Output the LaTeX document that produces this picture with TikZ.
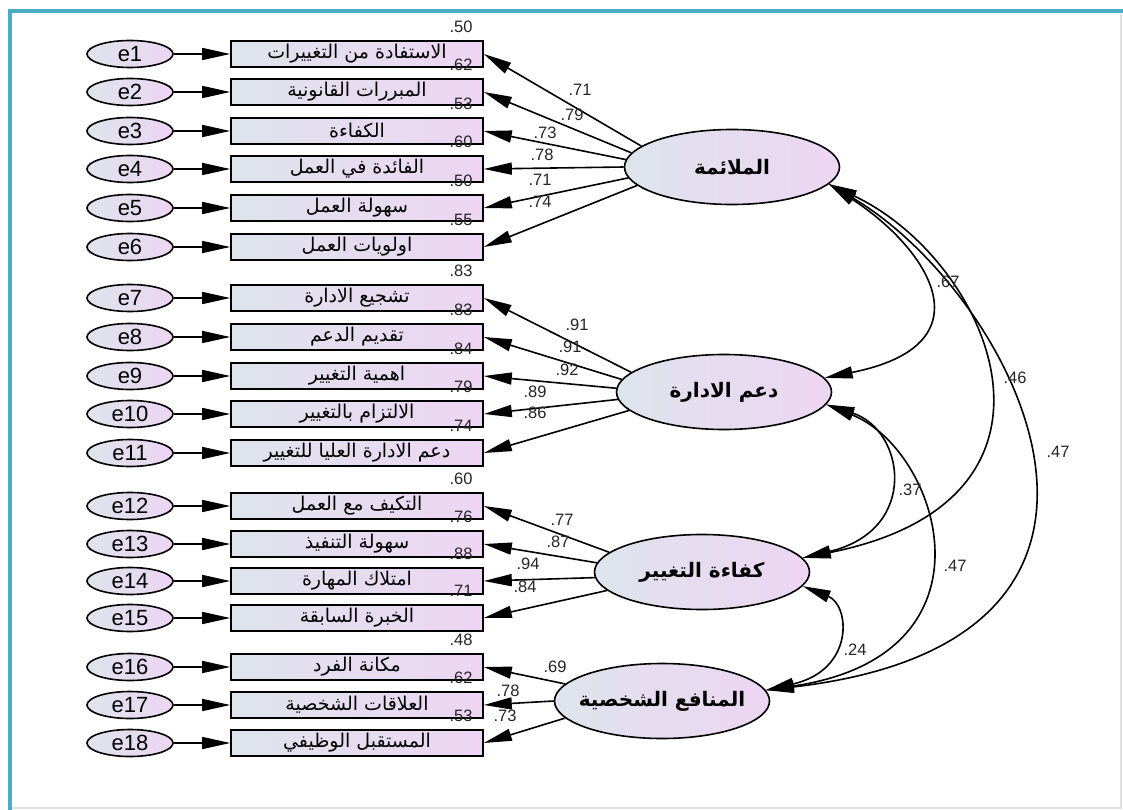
\documentclass[tikz,border=0pt]{standalone}
\usepackage{fontspec}
\setmainfont{Liberation Sans}
\newfontfamily\arabicfont[Script=Arabic]{DejaVu Sans}
\TeXXeTstate=1
\usetikzlibrary{shapes.geometric,arrows.meta}
\definecolor{amosleft}{RGB}{222,228,236}
\definecolor{amosright}{RGB}{237,213,243}
\definecolor{frameteal}{RGB}{75,172,198}
\newcommand{\artxt}[1]{{\arabicfont\beginR #1\endR}}
\tikzstyle{obs}=[rectangle, draw, line width=1.6pt, left color=amosleft, right color=amosright, minimum width=252pt, minimum height=26pt, inner sep=0pt, font=\fontsize{19}{19}\selectfont]
\tikzstyle{err}=[ellipse, draw, line width=1.6pt, left color=amosleft, right color=amosright, minimum width=86pt, minimum height=27pt, inner sep=0pt, font=\fontsize{22}{22}\selectfont]
\tikzstyle{lat}=[ellipse, draw, line width=1.6pt, left color=amosleft, right color=amosright, minimum width=215pt, minimum height=75pt, inner xsep=-30pt, inner ysep=0pt, font=\fontsize{20}{20}\selectfont\bfseries]
\tikzstyle{num}=[inner sep=0pt, text=black!85, font=\fontsize{16.5}{16.5}\selectfont]

\begin{document}
\begin{tikzpicture}[x=1pt, y=-1pt]
  \tikzstyle{arr}=[line width=1.6pt, -{Triangle[length=28pt,width=12pt]}];
  \tikzstyle{cov}=[line width=1.6pt, {Triangle[length=28pt,width=12pt]}-{Triangle[length=28pt,width=12pt]}];
  \useasboundingbox (0,0) rectangle (1123,810);
  \fill[white] (0,0) rectangle (1123,810);
  % frame
  \draw[black!12, line width=2pt] (1121,14) -- (1121,808) -- (12,808);
  \draw[frameteal, line width=4.5pt] (10,810) -- (10,11) -- (1123,11);

  % latent variables
  \node[lat] (M) at (732,167) {\artxt{الملائمة}};
  \node[lat] (D) at (724,392) {\artxt{دعم الادارة}};
  \node[lat] (K) at (702,572) {\artxt{كفاءة التغيير}};
  \node[lat] (P) at (662,701) {\artxt{المنافع الشخصية}};

  % indicators, errors and R^2
  \foreach \i/\y/\r/\t in {1/54/.50/{الاستفادة من التغييرات}, 2/92/.62/{المبررات القانونية},
      3/131/.53/{الكفاءة}, 4/169/.60/{الفائدة في العمل}, 5/208/.50/{سهولة العمل},
      6/247/.55/{اولويات العمل}, 7/298/.83/{تشجيع الادارة}, 8/337/.83/{تقديم الدعم},
      9/376/.84/{اهمية التغيير}, 10/414/.79/{الالتزام بالتغيير}, 11/453/.74/{دعم الادارة العليا للتغيير},
      12/506/.60/{التكيف مع العمل}, 13/544/.76/{سهولة التنفيذ}, 14/581/.88/{امتلاك المهارة},
      15/618/.71/{الخبرة السابقة}, 16/667/.48/{مكانة الفرد}, 17/705/.62/{العلاقات الشخصية},
      18/743/.53/{المستقبل الوظيفي}}{
    \node[obs] (b\i) at (357,\y) {\artxt{\t}};
    \node[err] (e\i) at (130,\y) {e\i};
    \node[num] (r\i) at (461,\y-27) {\r};
    \draw[arr] (e\i) -- (b\i);
  }

  % loadings
  \foreach \i/\a in {1/167,2/172,3/176,4/180,5/186,6/191}
    \draw[arr] (M.\a) -- (b\i.east);
  \foreach \i/\a in {7/168,8/173,9/178,10/184,11/191}
    \draw[arr] (D.\a) -- (b\i.east);
  \foreach \i/\a in {12/168,13/175,14/183,15/191}
    \draw[arr] (K.\a) -- (b\i.east);
  \foreach \i/\a in {16/170,17/180,18/190}
    \draw[arr] (P.\a) -- (b\i.east);

  % covariances
  \draw[cov] (M.-10) .. controls (930,250) and (990,345) .. (D.8);
  \draw[cov] (M.-10) .. controls (990,260) and (1095,500) .. (K.8);
  \draw[cov] (M.-10) .. controls (1010,290) and (1200,640) .. (P.6);
  \draw[cov] (D.-7) .. controls (905,430) and (920,530) .. (K.8);
  \draw[cov] (D.-7) .. controls (940,450) and (1005,655) .. (P.6);
  \draw[cov] (K.-8) .. controls (850,605) and (855,670) .. (P.6);

  % estimates
  \foreach \n/\x/\y/\v in {m1/580/90/.71, m2/572/115/.79, m3/545/133/.73, m4/542/155/.78,
      m5/540/180/.71, m6/540/202/.74, d7/577/325/.91, d8/570/347/.91, d9/567/370/.92,
      d10/535/392/.89, d11/535/413/.86, k12/562/520/.77, k13/558/542/.87, k14/528/564/.94,
      k15/525/587/.84, p16/555/667/.69, p17/508/691/.78, p18/505/716/.73,
      c1/948/282/.67, c2/1015/378/.46, c3/1058/452/.47, c4/910/490/.37, c5/955/566/.47,
      c6/855/650/.24}
    \node[num] (\n) at (\x,\y) {\v};
\end{tikzpicture}
\end{document}
